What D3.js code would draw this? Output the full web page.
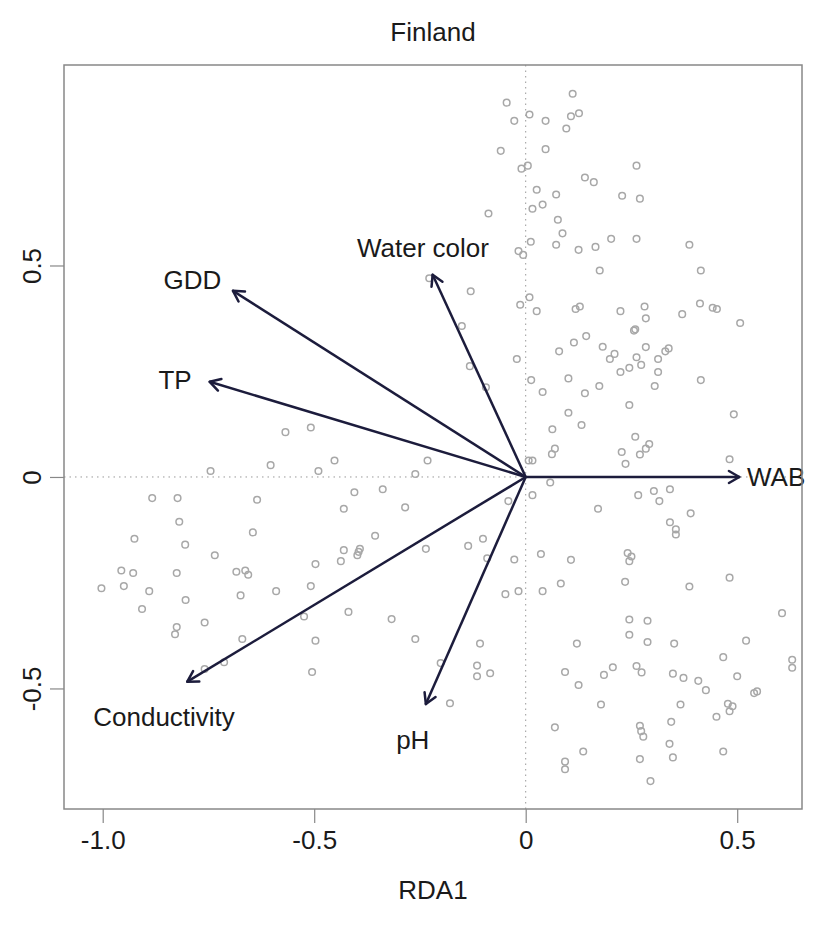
<!DOCTYPE html>
<html><head><meta charset="utf-8">
<script src="https://cdn.jsdelivr.net/npm/d3@7"></script>
<style>
body{margin:0;background:#fff;}
svg text{font-family:"Liberation Sans",Arial,sans-serif;}
</style></head>
<body><svg id="c" width="822" height="927"></svg>
<script>
// ---- data ----
const siteX = [-0.045,-0.027,0.009,0.047,-0.059,0.047,-0.010,0.005,0.026,0.040,0.016,-0.088,0.012,-0.017,-0.006,-0.228,-0.130,0.009,-0.013,0.026,
0.111,0.107,0.126,0.096,0.262,0.140,0.161,0.072,0.228,0.270,0.076,0.087,0.072,0.125,0.165,0.202,0.262,0.387,0.175,0.414,
0.118,0.128,0.224,0.281,0.284,0.370,0.412,0.442,0.452,0.507,0.143,0.114,0.079,0.182,0.256,0.259,0.284,0.210,0.199,0.262,
0.330,0.338,0.313,0.245,0.273,0.224,0.313,0.101,0.174,0.305,0.414,0.140,0.245,0.101,0.492,0.132,0.063,0.259,0.069,0.062,
0.227,0.292,0.284,0.270,0.236,0.482,0.058,0.266,0.303,0.341,0.316,0.171,0.390,0.341,0.355,0.355,
0.107,0.241,0.250,0.245,0.083,0.235,0.387,0.482,0.606,0.245,0.288,0.245,0.288,0.351,0.121,0.521,0.467,0.630,0.630,0.093,
0.185,0.206,0.262,0.274,0.348,0.373,0.408,0.426,0.500,0.125,0.540,0.547,0.178,0.366,0.478,0.489,0.482,0.069,0.270,0.273,
0.278,0.344,0.451,0.340,0.348,0.467,0.136,0.093,0.093,0.270,0.295,
-0.151,-0.021,-0.132,0.013,-0.094,0.040,-0.508,-0.452,-0.490,-0.232,-0.261,0.007,0.016,0.016,-0.041,-0.405,-0.338,-0.430,-0.285,-0.356,
-0.101,-0.136,-0.236,-0.430,-0.392,-0.395,-0.398,0.036,
-0.437,-0.497,-0.091,-0.027,-0.508,-0.048,-0.017,0.040,-0.524,-0.419,-0.317,-0.497,-0.261,-0.108,-0.201,-0.115,-0.115,-0.084,-0.505,-0.179,
-0.568,-0.603,-0.745,-0.883,-0.823,-0.635,-0.819,-0.925,-0.645,-0.805,-0.735,
-0.956,-0.928,-0.825,-0.684,-0.663,-0.656,-1.003,-0.950,-0.890,-0.804,-0.674,-0.590,-0.907,-0.759,-0.825,-0.829,-0.670,-0.759,-0.713];
const siteY = [0.885,0.842,0.857,0.842,0.771,0.775,0.729,0.736,0.679,0.644,0.634,0.623,0.556,0.534,0.525,0.470,0.439,0.425,0.407,0.392,
0.906,0.853,0.860,0.824,0.736,0.708,0.697,0.668,0.665,0.658,0.608,0.576,0.549,0.537,0.544,0.563,0.563,0.549,0.488,0.488,
0.397,0.403,0.392,0.403,0.375,0.385,0.410,0.400,0.397,0.364,0.333,0.318,0.297,0.308,0.346,0.349,0.307,0.291,0.279,0.283,
0.297,0.304,0.279,0.258,0.265,0.248,0.248,0.233,0.215,0.215,0.229,0.198,0.170,0.152,0.148,0.123,0.113,0.095,0.067,0.054,
0.059,0.078,0.067,0.053,0.031,0.042,-0.013,-0.043,-0.033,-0.029,-0.057,-0.075,-0.086,-0.107,-0.124,-0.136,
-0.196,-0.180,-0.188,-0.199,-0.252,-0.248,-0.259,-0.238,-0.322,-0.337,-0.340,-0.373,-0.390,-0.394,-0.394,-0.387,-0.426,-0.432,-0.451,-0.461,
-0.468,-0.450,-0.447,-0.462,-0.465,-0.475,-0.482,-0.504,-0.471,-0.492,-0.511,-0.507,-0.538,-0.538,-0.536,-0.542,-0.554,-0.592,-0.588,-0.601,
-0.614,-0.579,-0.567,-0.631,-0.663,-0.649,-0.649,-0.673,-0.691,-0.667,-0.719,
0.357,0.279,0.262,0.229,0.212,0.201,0.117,0.039,0.014,0.039,0.007,0.039,0.039,-0.043,-0.057,-0.036,-0.029,-0.075,-0.072,-0.139,
-0.146,-0.163,-0.170,-0.173,-0.170,-0.177,-0.185,-0.182,
-0.199,-0.206,-0.192,-0.195,-0.258,-0.277,-0.270,-0.270,-0.330,-0.319,-0.336,-0.387,-0.383,-0.394,-0.440,-0.446,-0.471,-0.464,-0.461,-0.535,
0.106,0.028,0.014,-0.050,-0.050,-0.054,-0.106,-0.146,-0.131,-0.160,-0.185,
-0.221,-0.227,-0.227,-0.224,-0.221,-0.231,-0.263,-0.258,-0.270,-0.291,-0.280,-0.270,-0.312,-0.344,-0.355,-0.372,-0.383,-0.454,-0.438];

const varNames = ["WAB","Water color","GDD","TP","Conductivity","pH"];
const varX = [0.505,-0.220,-0.692,-0.747,-0.800,-0.236];
const varY = [0.000,0.478,0.440,0.225,-0.484,-0.537];
const labX = [0.592,-0.243,-0.788,-0.829,-0.855,-0.267];
const labY = [0.000,0.542,0.466,0.229,-0.567,-0.622];

const xTicks = [-1.0,-0.5,0,0.5];
const xTickLabels = ["-1.0","-0.5","0","0.5"];
const yTicks = [-0.5,0,0.5];
const yTickLabels = ["-0.5","0","0.5"];
const title = "Finland";
const xTitle = "RDA1";

// ---- drawing ----
const svg = d3.select("#c");
const L=64,R=802,T=65,B=809;
const x = d3.scaleLinear().domain([-1.0915,0.6532]).range([L,R]);
const y = d3.scaleLinear().domain([-0.785,0.974]).range([B,T]);

// zero lines
svg.append("line").attr("x1",L).attr("x2",R).attr("y1",y(0)).attr("y2",y(0))
  .attr("stroke","#999").attr("stroke-width",1).attr("stroke-dasharray","1.5,4");
svg.append("line").attr("y1",T).attr("y2",B).attr("x1",x(0)).attr("x2",x(0))
  .attr("stroke","#999").attr("stroke-width",1).attr("stroke-dasharray","1.5,4");

// points
svg.append("g").selectAll("circle").data(d3.range(siteX.length)).join("circle")
  .attr("cx",i=>x(siteX[i])).attr("cy",i=>y(siteY[i])).attr("r",3.3)
  .attr("fill","none").attr("stroke","#a8a8a8").attr("stroke-width",1.5);

// arrows
const ac = "#1c1c3c";
const ag = svg.append("g");
varNames.forEach((n,i)=>{
  const x0=x(0),y0=y(0),x1=x(varX[i]),y1=y(varY[i]);
  ag.append("line").attr("x1",x0).attr("y1",y0).attr("x2",x1).attr("y2",y1)
    .attr("stroke",ac).attr("stroke-width",2.5);
  const ang=Math.atan2(y1-y0,x1-x0), hl=12, ha=Math.PI/6;
  [ang+Math.PI-ha, ang+Math.PI+ha].forEach(a=>{
    ag.append("line").attr("x1",x1).attr("y1",y1)
      .attr("x2",x1+hl*Math.cos(a)).attr("y2",y1+hl*Math.sin(a))
      .attr("stroke",ac).attr("stroke-width",2.5).attr("stroke-linecap","round");
  });
  svg.append("text").attr("x",x(labX[i])).attr("y",y(labY[i]))
    .attr("text-anchor","middle").attr("dominant-baseline","central")
    .attr("font-size",26).attr("fill","#1a1a1a").text(n);
});

// box
svg.append("rect").attr("x",L).attr("y",T).attr("width",R-L).attr("height",B-T)
  .attr("fill","none").attr("stroke","#888").attr("stroke-width",1.5);

// axes
const gx = svg.append("g").attr("transform",`translate(0,${B})`)
  .call(d3.axisBottom(x).tickValues(xTicks).tickSize(14).tickPadding(8)
    .tickFormat((d,i)=>xTickLabels[i]));
gx.select(".domain").remove();
gx.selectAll(".tick line").attr("stroke","#888").attr("stroke-width",1.2);
gx.selectAll(".tick text").attr("font-size",26).attr("fill","#1a1a1a")
  .attr("font-family","Liberation Sans, Arial, sans-serif");

const gy = svg.append("g").attr("transform",`translate(${L},0)`)
  .call(d3.axisLeft(y).tickValues(yTicks).tickSize(14).tickFormat((d,i)=>yTickLabels[i]));
gy.select(".domain").remove();
gy.selectAll(".tick line").attr("stroke","#888").attr("stroke-width",1.2);
gy.selectAll(".tick text").attr("font-size",26).attr("fill","#1a1a1a")
  .attr("font-family","Liberation Sans, Arial, sans-serif")
  .attr("text-anchor","middle").attr("dy",null).attr("dominant-baseline","central")
  .attr("x",0).attr("transform","translate(-32,0) rotate(-90)");

svg.append("text").attr("x",(L+R)/2).attr("y",32).attr("text-anchor","middle")
  .attr("dominant-baseline","central").attr("font-size",26).attr("fill","#1a1a1a").text(title);
svg.append("text").attr("x",(L+R)/2).attr("y",890).attr("text-anchor","middle")
  .attr("dominant-baseline","central").attr("font-size",26).attr("fill","#1a1a1a").text(xTitle);
</script></body></html>
